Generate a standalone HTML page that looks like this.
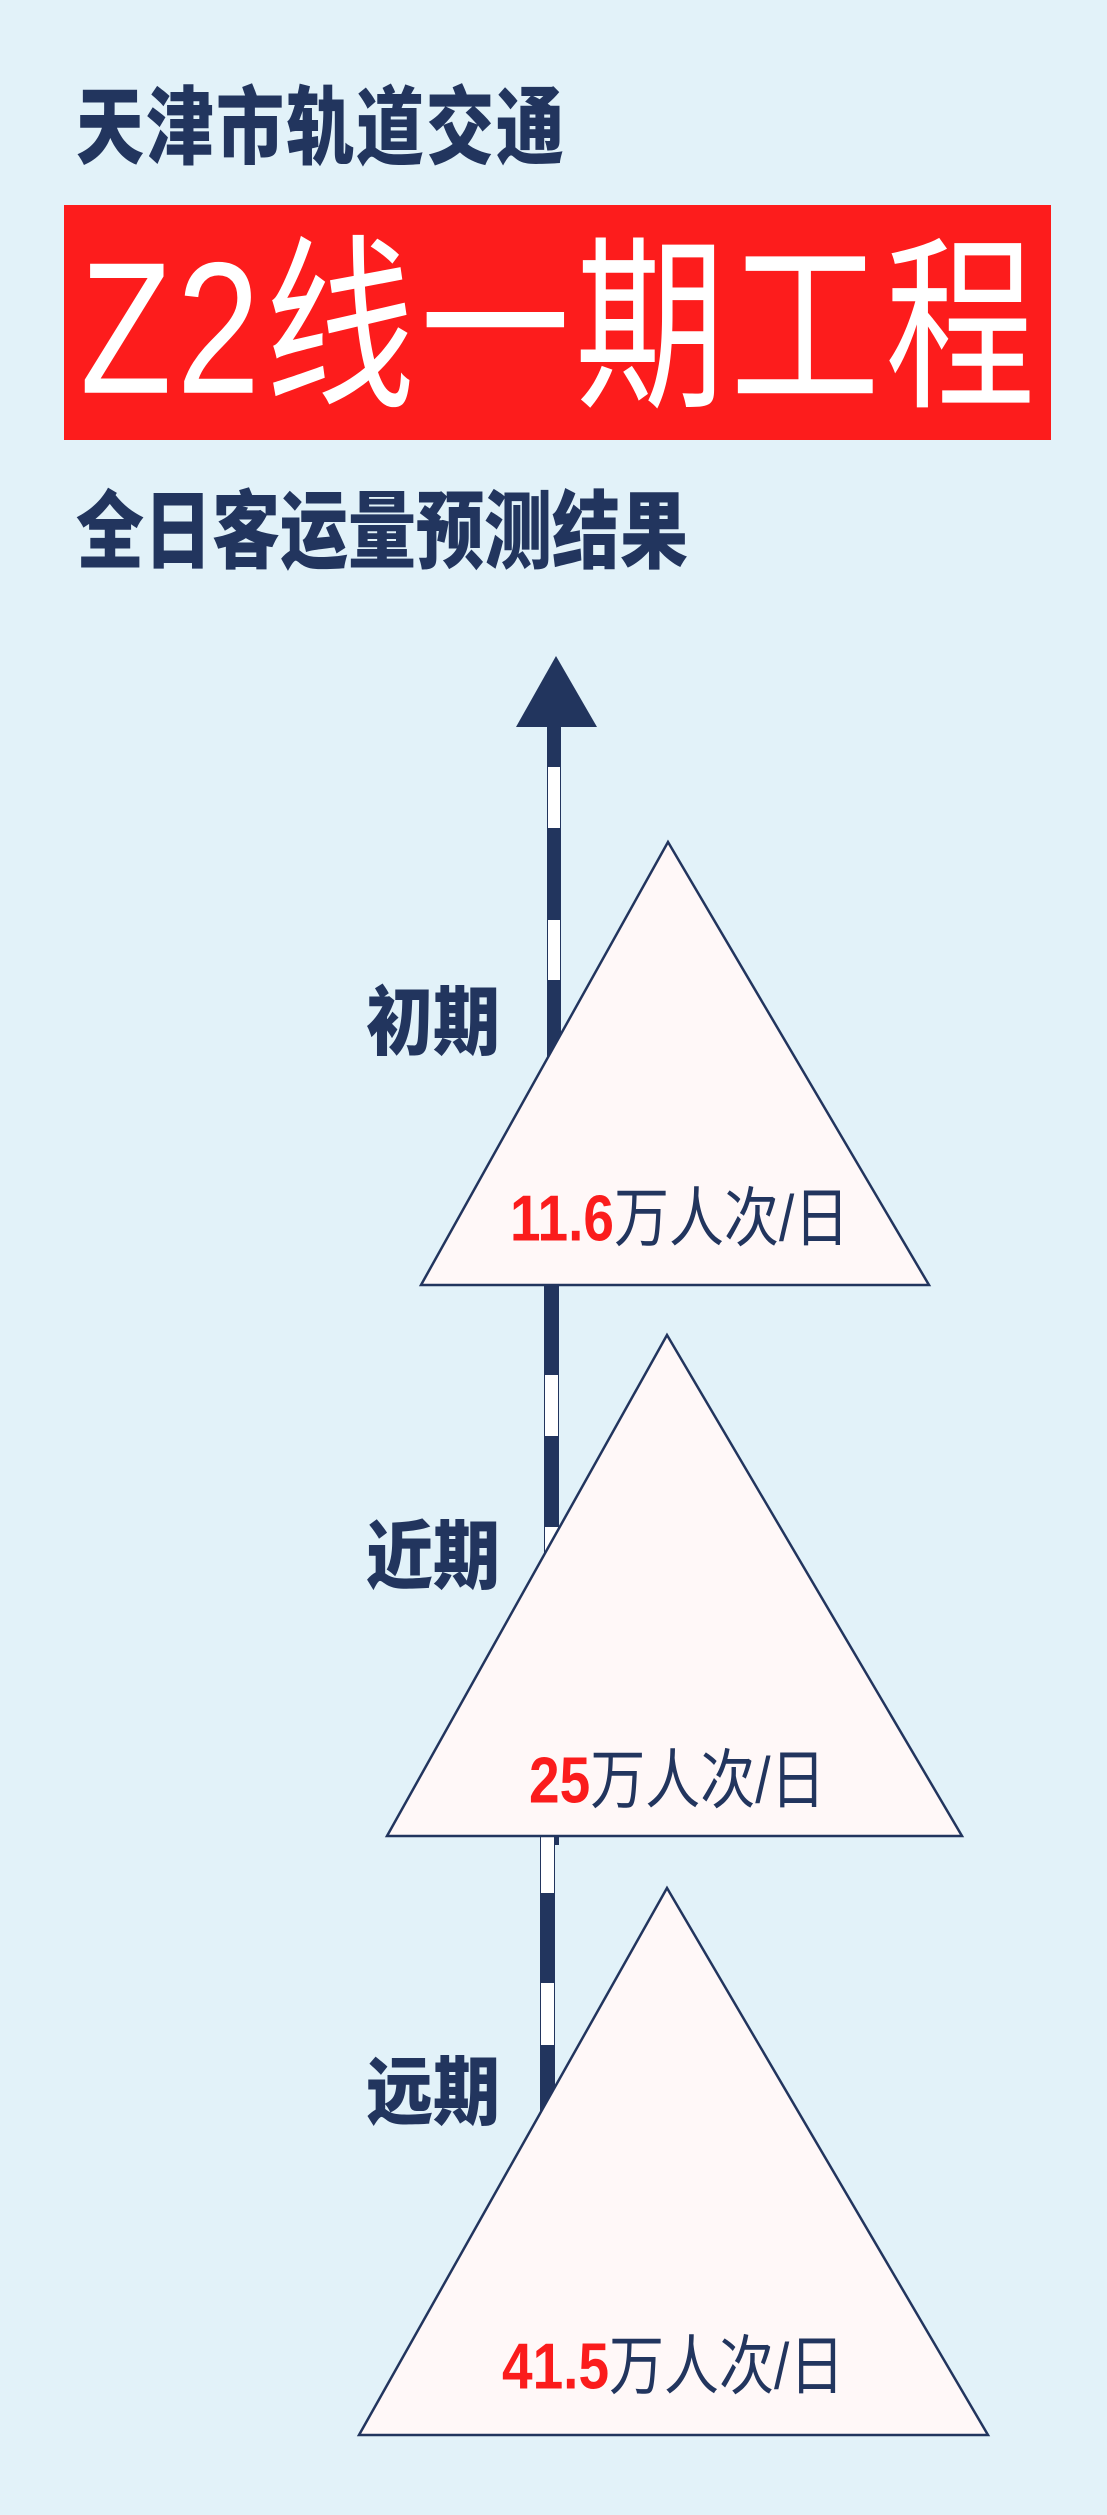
<!DOCTYPE html>
<html><head><meta charset="utf-8"><style>
html,body{margin:0;padding:0}
body{width:1107px;height:2515px;background:#e2f2f9;position:relative;overflow:hidden;font-family:"Liberation Sans","Noto Sans CJK SC","WenQuanYi Zen Hei",sans-serif}
.t{position:absolute;white-space:nowrap;font-weight:900;color:#22355e;line-height:1;transform-origin:0 0}
.r{color:#fb1c1c;font-weight:bold}
.n{color:#22355e;font-weight:normal}
</style></head><body>
<svg width="1107" height="2515" style="position:absolute;left:0;top:0">
<rect x="64" y="205" width="987" height="235" fill="#fd1c1c"/>
<polygon points="556,656 516,727 597,727" fill="#22355e"/>
<rect x="547" y="725" width="14" height="560" fill="#22355e"/>
<rect x="548" y="767" width="12" height="61" fill="#fff"/>
<rect x="548" y="920" width="12" height="60" fill="#fff"/>
<rect x="544" y="1285" width="15" height="560" fill="#22355e"/>
<rect x="545" y="1375" width="13" height="61" fill="#fff"/>
<rect x="545" y="1527" width="13" height="61" fill="#fff"/>
<rect x="540" y="1836" width="15" height="400" fill="#22355e"/>
<rect x="541" y="1837" width="13" height="56" fill="#fff"/>
<rect x="541" y="1983" width="13" height="62" fill="#fff"/>
<polygon points="668,842 421,1285 929,1285" fill="#fff8f8" stroke="#22355e" stroke-width="2.5"/>
<polygon points="667,1335 387,1836 962,1836" fill="#fff8f8" stroke="#22355e" stroke-width="2.5"/>
<polygon points="667,1888 359,2435 988,2435" fill="#fff8f8" stroke="#22355e" stroke-width="2.5"/>
</svg>
<div class="t" style="left:76px;top:86px;font-size:68px;letter-spacing:2px;transform:scaleY(1.25)">天津市轨道交通</div>
<div class="t" style="left:80px;top:234px;font-size:150px;color:#fff;letter-spacing:5px;font-weight:normal;transform:scaleY(1.25)">Z2线一期工程</div>
<div class="t" style="left:76px;top:490px;font-size:68px;transform:scaleY(1.25)">全日客运量预测结果</div>
<div class="t" style="left:366px;top:986px;font-size:67px;transform:scaleY(1.12)">初期</div>
<div class="t" style="left:366px;top:1520px;font-size:67px;transform:scaleY(1.12)">近期</div>
<div class="t" style="left:366px;top:2056px;font-size:67px;transform:scaleY(1.12)">远期</div>
<div class="t" style="left:510px;top:1186px;font-size:55px;transform:scaleY(1.18)"><span class="r">11.6</span><span class="n">万人次/日</span></div>
<div class="t" style="left:529px;top:1748px;font-size:55px;transform:scaleY(1.18)"><span class="r">25</span><span class="n">万人次/日</span></div>
<div class="t" style="left:502px;top:2334px;font-size:55px;transform:scaleY(1.18)"><span class="r">41.5</span><span class="n">万人次/日</span></div>
</body></html>
